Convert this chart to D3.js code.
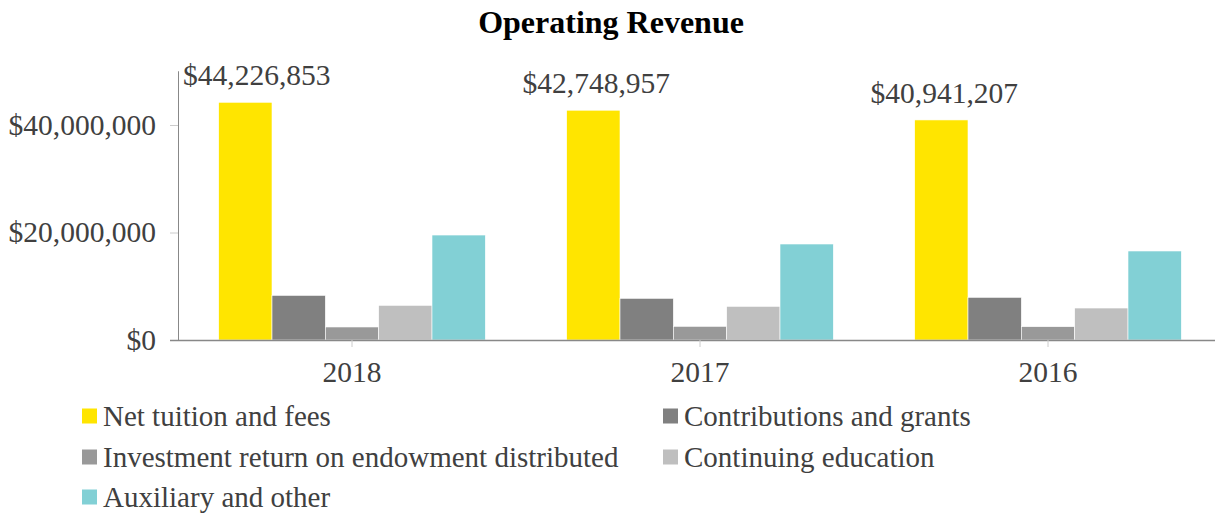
<!DOCTYPE html>
<html><head><meta charset="utf-8">
<script src="https://cdn.jsdelivr.net/npm/d3@7"></script>
<style>
html,body{margin:0;padding:0;background:#fff;}
svg{display:block;font-family:"Liberation Serif","Times New Roman",serif;}
</style></head>
<body><svg id="c" width="1215" height="514"></svg>
<script>
const categories = ["2018", "2017", "2016"];
const seriesNames = ["Net tuition and fees", "Contributions and grants", "Investment return on endowment distributed", "Continuing education", "Auxiliary and other"];
const netTuition = [44226853, 42748957, 40941207];
const contributions = [8300000, 7750000, 7940000];
const investment = [2420000, 2540000, 2480000];
const continuing = [6450000, 6260000, 5950000];
const auxiliary = [19530000, 17860000, 16560000];
const yTicks = [0, 20000000, 40000000];
const colors = ["#FFE500", "#808080", "#999999", "#BFBFBF", "#82D0D5"];

(function () {
const seriesValues = [netTuition, contributions, investment, continuing, auxiliary];
const svg = d3.select("#c");
const mLeft = 178, mRight = 1222, mTop = 71.25, mBottom = 340;
const fs = 29.5;

const x = d3.scaleBand().domain(categories).range([mLeft, mRight]).paddingInner(0).paddingOuter(0);
const inner = d3.scaleBand().domain(d3.range(seriesNames.length)).range([0, x.bandwidth()]).paddingOuter(0.7625).paddingInner(0);
const y = d3.scaleLinear().domain([0, 50000000]).range([mBottom, mTop]);

// title
svg.append("text").attr("x", 611).attr("y", 33).attr("text-anchor", "middle")
  .attr("font-size", 32).attr("font-weight", "bold").attr("fill", "#000").text("Operating Revenue");

// bars
categories.forEach((c, ci) => {
  const g = svg.append("g").attr("transform", `translate(${x(c)},0)`);
  seriesValues.forEach((vals, si) => {
    g.append("rect").attr("x", inner(si)).attr("width", inner.bandwidth())
      .attr("y", y(vals[ci])).attr("height", y(0) - y(vals[ci]))
      .attr("fill", colors[si]).attr("stroke", "#fff").attr("stroke-width", 0.6);
  });
});

// y axis
const yAxis = svg.append("g").attr("transform", `translate(${mLeft},0)`)
  .call(d3.axisLeft(y).tickValues(yTicks).tickSize(8).tickPadding(14).tickFormat(d => "$" + d3.format(",")(d)));
yAxis.select(".domain").attr("stroke", "#888").attr("d", `M0.5,${mTop}V${mBottom}`);
yAxis.selectAll(".tick line").attr("stroke", "#ccc");
yAxis.selectAll("text").attr("font-size", fs).attr("fill", "#404040").attr("font-family", "Liberation Serif");

// x axis
const xAxis = svg.append("g").attr("transform", `translate(0,${mBottom})`)
  .call(d3.axisBottom(x).tickSize(7).tickPadding(14));
xAxis.select(".domain").attr("stroke", "#888").attr("stroke-width", 1.5).attr("d", `M170,0.5H1215`);
xAxis.selectAll(".tick line").attr("stroke", "#ccc");
xAxis.selectAll("text").attr("font-size", fs).attr("fill", "#404040").attr("font-family", "Liberation Serif");

// value labels for net tuition
categories.forEach((c, ci) => {
  const cx = x(c) + inner(0) + inner.bandwidth() / 2 + 3;
  const t = svg.append("text").attr("y", y(netTuition[ci]) - 17).attr("text-anchor", "middle")
    .attr("font-size", fs).attr("fill", "#404040").text("$" + d3.format(",")(netTuition[ci]));
  const w = t.node().getComputedTextLength();
  t.attr("x", Math.max(cx, mLeft + 5 + w / 2));
});

// legend
const legendPos = [[82, 416], [663, 416], [82, 457], [663, 457], [82, 497]];
seriesNames.forEach((n, i) => {
  const [lx, ly] = legendPos[i];
  svg.append("rect").attr("x", lx).attr("y", ly - 7.5).attr("width", 15).attr("height", 15).attr("fill", colors[i]);
  svg.append("text").attr("x", lx + 21).attr("y", ly).attr("dy", "0.33em")
    .attr("font-size", 29).attr("fill", "#404040").text(n);
});
})();
</script></body></html>
